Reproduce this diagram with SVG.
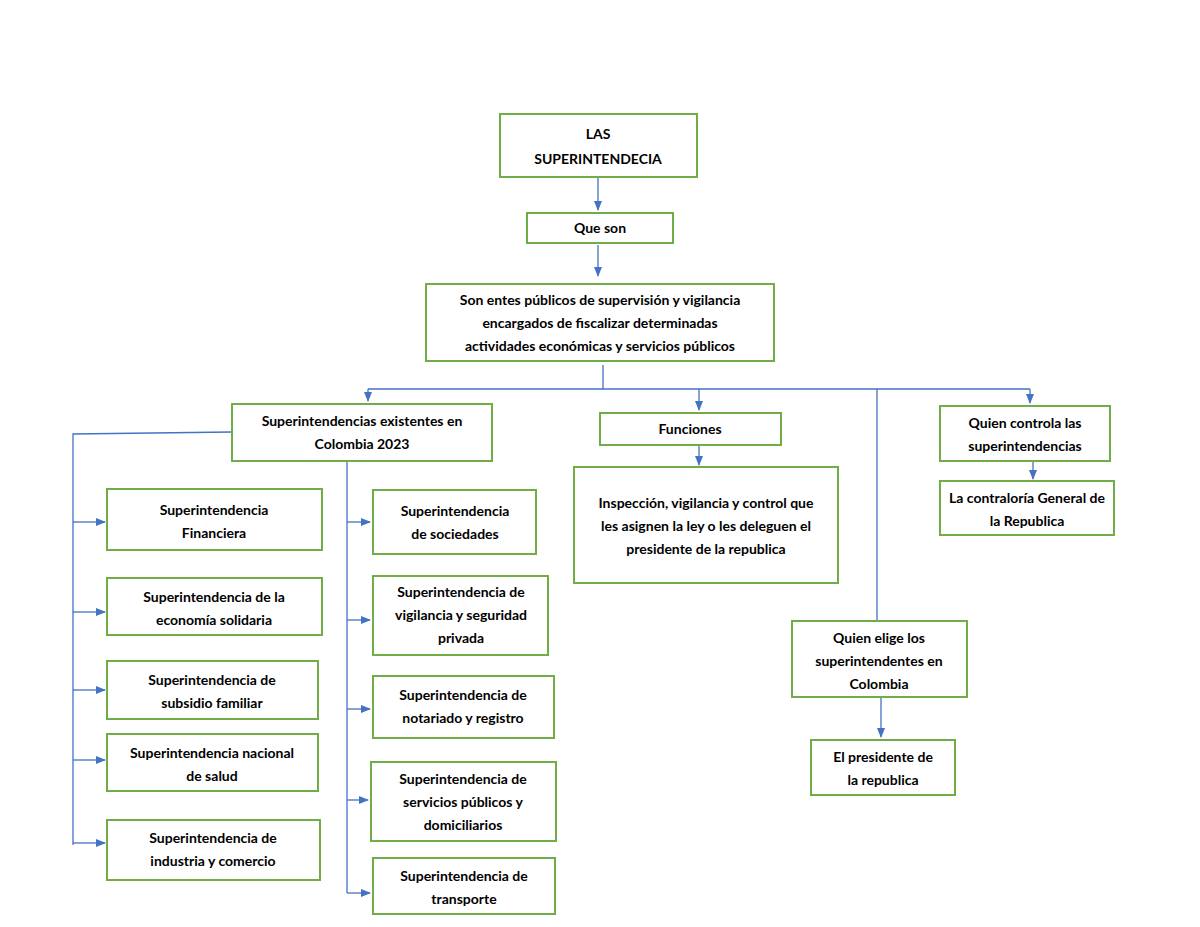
<svg xmlns="http://www.w3.org/2000/svg" width="1200" height="927" viewBox="0 0 1200 927">
<defs>
<marker id="a" markerWidth="10" markerHeight="8" refX="9" refY="4" orient="auto" markerUnits="userSpaceOnUse"><path d="M0,0 L10,4 L0,8 Z" fill="#4472c4"/></marker>
<style>
.b{fill:#fff;stroke:#70ad47;stroke-width:2}
.t{font-family:Lato,"Liberation Sans",sans-serif;font-weight:bold;font-size:14px;fill:#000;text-anchor:middle}
.c{fill:none;stroke:#4472c4;stroke-width:1.3}
.m{marker-end:url(#a)}
</style>
</defs>
<rect width="1200" height="927" fill="#fff"/>
<g id="connectors">
<path class="c m" d="M598,177 V210"/>
<path class="c m" d="M598,245 V276"/>
<path class="c" d="M603,365 V389 M368,389 H1030"/>
<path class="c m" d="M368,389 V401"/>
<path class="c m" d="M699,389 V410"/>
<path class="c m" d="M1030,389 V403"/>
<path class="c" d="M877,389 V620"/>
<path class="c" d="M232,432 L73,434 V845"/>
<path class="c m" d="M73,522 H105"/><path class="c m" d="M73,612 H105"/><path class="c m" d="M73,690 H105"/><path class="c m" d="M73,760 H105"/><path class="c m" d="M73,843 H105"/>
<path class="c" d="M347,461 V893"/>
<path class="c m" d="M347,522 H370"/><path class="c m" d="M347,620 H370"/><path class="c m" d="M347,709 H370"/><path class="c m" d="M347,800 H368"/><path class="c m" d="M347,893 H370"/>
<path class="c m" d="M699,446 V465"/>
<path class="c m" d="M1033,461 V479"/>
<path class="c m" d="M881,697 V737"/>
</g>
<g id="n1"><rect class="b" x="500" y="114" width="197" height="63"/><text class="t" x="598" y="139">LAS</text><text class="t" x="598" y="164">SUPERINTENDECIA</text></g>
<g id="n2"><rect class="b" x="527" y="213" width="146" height="30"/><text class="t" x="600" y="233">Que son</text></g>
<g id="n3"><rect class="b" x="426" y="284" width="348" height="77"/><text class="t" x="600" y="305">Son entes públicos de supervisión y vigilancia</text><text class="t" x="600" y="328">encargados de fiscalizar determinadas</text><text class="t" x="600" y="351">actividades económicas y servicios públicos</text></g>
<g id="n4"><rect class="b" x="232" y="404" width="260" height="57"/><text class="t" x="362" y="426">Superintendencias existentes en</text><text class="t" x="362" y="449">Colombia 2023</text></g>
<g id="n5"><rect class="b" x="600" y="413" width="181" height="32"/><text class="t" x="690" y="434">Funciones</text></g>
<g id="n6"><rect class="b" x="940" y="406" width="170" height="55"/><text class="t" x="1025" y="428">Quien controla las</text><text class="t" x="1025" y="451">superintendencias</text></g>
<g id="n7"><rect class="b" x="574" y="467" width="264" height="116"/><text class="t" x="706" y="508">Inspección, vigilancia y control que</text><text class="t" x="706" y="531">les asignen la ley o les deleguen el</text><text class="t" x="706" y="554">presidente de la republica</text></g>
<g id="n8"><rect class="b" x="940" y="481" width="174" height="54"/><text class="t" x="1027" y="503">La contraloría General de</text><text class="t" x="1027" y="526">la Republica</text></g>
<g id="n9"><rect class="b" x="792" y="621" width="175" height="76"/><text class="t" x="879" y="643">Quien elige los</text><text class="t" x="879" y="666">superintendentes en</text><text class="t" x="879" y="689">Colombia</text></g>
<g id="n10"><rect class="b" x="811" y="740" width="144" height="55"/><text class="t" x="883" y="762">El presidente de</text><text class="t" x="883" y="785">la republica</text></g>
<g id="l1"><rect class="b" x="107" y="489" width="215" height="61"/><text class="t" x="214" y="515">Superintendencia</text><text class="t" x="214" y="538">Financiera</text></g>
<g id="l2"><rect class="b" x="107" y="578" width="215" height="57"/><text class="t" x="214" y="602">Superintendencia de la</text><text class="t" x="214" y="625">economía solidaria</text></g>
<g id="l3"><rect class="b" x="107" y="661" width="211" height="58"/><text class="t" x="212" y="685">Superintendencia de</text><text class="t" x="212" y="708">subsidio familiar</text></g>
<g id="l4"><rect class="b" x="107" y="734" width="211" height="57"/><text class="t" x="212" y="758">Superintendencia nacional</text><text class="t" x="212" y="781">de salud</text></g>
<g id="l5"><rect class="b" x="107" y="820" width="213" height="60"/><text class="t" x="213" y="843">Superintendencia de</text><text class="t" x="213" y="866">industria y comercio</text></g>
<g id="m1"><rect class="b" x="373" y="490" width="163" height="64"/><text class="t" x="455" y="516">Superintendencia</text><text class="t" x="455" y="539">de sociedades</text></g>
<g id="m2"><rect class="b" x="373" y="576" width="175" height="79"/><text class="t" x="461" y="597">Superintendencia de</text><text class="t" x="461" y="620">vigilancia y seguridad</text><text class="t" x="461" y="643">privada</text></g>
<g id="m3"><rect class="b" x="373" y="676" width="181" height="62"/><text class="t" x="463" y="700">Superintendencia de</text><text class="t" x="463" y="723">notariado y registro</text></g>
<g id="m4"><rect class="b" x="371" y="762" width="185" height="79"/><text class="t" x="463" y="784">Superintendencia de</text><text class="t" x="463" y="807">servicios públicos y</text><text class="t" x="463" y="830">domiciliarios</text></g>
<g id="m5"><rect class="b" x="373" y="858" width="182" height="56"/><text class="t" x="464" y="881">Superintendencia de</text><text class="t" x="464" y="904">transporte</text></g>
</svg>
